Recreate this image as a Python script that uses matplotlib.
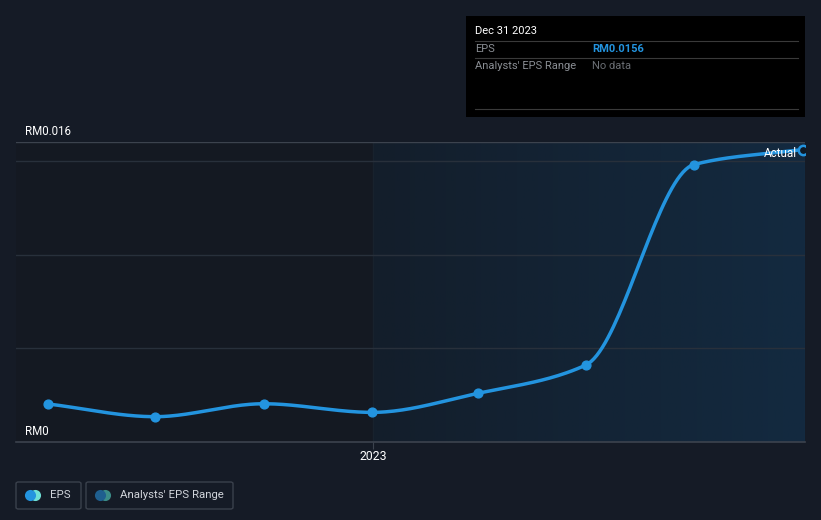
import numpy as np
import matplotlib.pyplot as plt
import matplotlib.dates as mdates
from datetime import datetime
from matplotlib.patches import Rectangle, FancyBboxPatch
from matplotlib.colors import LinearSegmentedColormap

plt.rcParams['font.family'] = ['Roboto', 'DejaVu Sans']

# data
dates = ["2022-03-31", "2022-06-30", "2022-09-30", "2022-12-31",
         "2023-03-31", "2023-06-30", "2023-09-30", "2023-12-31"]
eps = [0.00203, 0.00135, 0.00204, 0.00158, 0.0026, 0.0041, 0.0148, 0.0156]
y_ticks = [0, 0.016]
y_tick_labels = ["RM0", "RM0.016"]
grid_vals = [0.005, 0.010, 0.015]

BG = "#151b26"
BLUE = "#2394df"


def monotone(x, y, n=40):
    # Fritsch-Carlson monotone cubic for the smooth curve between points
    x = np.asarray(x, float)
    y = np.asarray(y, float)
    h = np.diff(x)
    d = np.diff(y) / h
    m = np.zeros_like(y)
    m[0], m[-1] = d[0], d[-1]
    for i in range(1, len(y) - 1):
        if d[i - 1] * d[i] <= 0:
            m[i] = 0
        else:
            w1 = 2 * h[i] + h[i - 1]
            w2 = h[i] + 2 * h[i - 1]
            m[i] = (w1 + w2) / (w1 / d[i - 1] + w2 / d[i])
    xs, ys = [], []
    for i in range(len(h)):
        t = np.linspace(0, 1, n)
        h00 = 2 * t**3 - 3 * t**2 + 1
        h10 = t**3 - 2 * t**2 + t
        h01 = -2 * t**3 + 3 * t**2
        h11 = t**3 - t**2
        xs.append(x[i] + t * h[i])
        ys.append(h00 * y[i] + h10 * h[i] * m[i] + h01 * y[i + 1] + h11 * h[i] * m[i + 1])
    return np.concatenate(xs), np.concatenate(ys)


def main():
    x = mdates.date2num([datetime.strptime(d, "%Y-%m-%d") for d in dates])

    fig = plt.figure(figsize=(8.21, 5.2), dpi=100, facecolor=BG)
    ax = fig.add_axes([16 / 821, 78 / 520, 789 / 821, 300 / 520])
    ax.set_facecolor("#141922")

    x0 = mdates.date2num(datetime(2022, 3, 4))
    x1 = mdates.date2num(datetime(2024, 1, 2))
    split = mdates.date2num(datetime(2023, 1, 1))
    ax.set_xlim(x0, x1)
    ax.set_ylim(0, 0.016)

    # shaded past-year region with a soft gradient
    grad = np.linspace(0, 1, 256).reshape(1, -1)
    cmap = LinearSegmentedColormap.from_list("g", ["#131e2b", "#132a40"])
    ax.imshow(grad, extent=[split, x1, 0, 0.016], aspect="auto", cmap=cmap,
              zorder=0.5)
    ax.axvline(split, color="#18222d", lw=1, zorder=0.6)

    for g in grid_vals:
        ax.axhline(g, color="#28303b", lw=1, zorder=1)
    ax.axhline(0.016, color="#3c434e", lw=1, zorder=1)
    ax.axhline(0, color="#3c434e", lw=1.2, zorder=1, clip_on=False)

    xs, ys = monotone(x, eps)
    ax.plot(xs, ys, color=BLUE, lw=2.5, zorder=3, solid_capstyle="round")
    ax.scatter(x[:-1], eps[:-1], s=40, color=BLUE, zorder=4)
    ax.scatter(x[-1:], eps[-1:], s=45, facecolor="#0e1a26", edgecolor=BLUE,
               lw=1.8, zorder=5)
    ax.text(x[-1] - 5, eps[-1] - 0.0002, "Actual", color="white", fontsize=8.5,
            ha="right", va="center", zorder=6)

    for sp in ax.spines.values():
        sp.set_visible(False)
    ax.set_yticks([])
    ax.set_xticks([split])
    ax.set_xticklabels(["2023"], color="white", fontsize=8.8)
    ax.tick_params(axis="x", length=5, color="#3c434e", pad=1)

    # y labels sit above their lines
    for v, lab in zip(y_ticks, y_tick_labels):
        ax.text(0.011, v + 0.0002, lab, transform=ax.get_yaxis_transform(),
                color="white", fontsize=8.3, ha="left", va="bottom")

    # tooltip box
    fs = 8.0
    fig.patches.append(Rectangle((466 / 821, 1 - 117 / 520), 339 / 821, 101 / 520,
                                 transform=fig.transFigure, facecolor="black",
                                 edgecolor="none", zorder=10))
    fig.text(475 / 821, 1 - 31 / 520, "Dec 31 2023", color="white", fontsize=fs,
             va="center", zorder=11)
    for yy in (41, 58, 109):
        fig.add_artist(plt.Line2D([475 / 821, 798 / 821], [1 - yy / 520] * 2,
                                  color="#3a3a3a", lw=0.8, zorder=11))
    fig.text(475 / 821, 1 - 49 / 520, "EPS", color="#8a8e94", fontsize=fs,
             va="center", zorder=11)
    fig.text(592 / 821, 1 - 49 / 520, "RM0.0156", color=BLUE, fontsize=fs,
             fontweight="bold", va="center", zorder=11)
    fig.text(475 / 821, 1 - 66 / 520, "Analysts' EPS Range", color="#8a8e94",
             fontsize=fs, va="center", zorder=11)
    fig.text(592 / 821, 1 - 66 / 520, "No data", color="#6a6e74", fontsize=fs,
             va="center", zorder=11)

    # legend buttons
    items = [("EPS", 16, 81, BLUE, "#6fe0d6"),
             ("Analysts' EPS Range", 86, 233, "#1f5f8f", "#3b8c88")]
    for label, left, right, c1, c2 in items:
        fig.patches.append(FancyBboxPatch((left / 821, 1 - 509 / 520),
                                          (right - left) / 821, 27 / 520,
                                          boxstyle="round,pad=0,rounding_size=0.003",
                                          transform=fig.transFigure,
                                          facecolor="none", edgecolor="#3a414c", lw=1))
        cy = 1 - 495 / 520
        fig.add_artist(plt.Line2D([(left + 19) / 821], [cy], marker="o", ms=8,
                                  color=c2, mec="none"))
        fig.add_artist(plt.Line2D([(left + 14) / 821], [cy], marker="o", ms=8,
                                  color=c1, mec="none"))
        fig.text((left + 34) / 821, cy, label, color="#d0d4da", fontsize=8.2,
                 va="center")

    fig.savefig("out.png", dpi=100, facecolor=BG)


if __name__ == "__main__":
    main()
